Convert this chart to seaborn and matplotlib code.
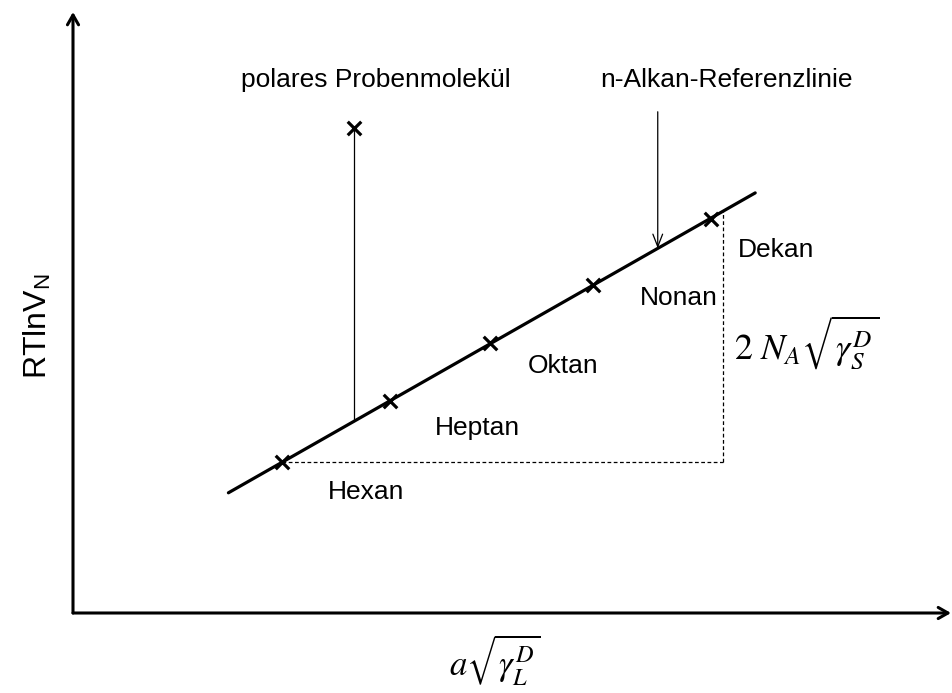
import numpy as np
import pandas as pd
import matplotlib.pyplot as plt
import seaborn as sns

# Schematic units: origin at the corner of the axes, both axes 0..100
alkanes = ["Hexan", "Heptan", "Oktan", "Nonan", "Dekan"]
alkane_x = [23.8, 36.1, 47.5, 59.2, 72.7]
alkane_y = [25.1, 35.3, 44.9, 54.6, 65.6]

polar_x = [32.0]
polar_y = [80.7]

# n-alkane reference line (end points)
ref_x = [17.7, 77.7]
ref_y = [20.0, 69.9]

df = pd.DataFrame({"x": alkane_x + polar_x, "y": alkane_y + polar_y,
                   "name": alkanes + ["polar"]})

sns.set_style("white")
plt.rcParams["font.family"] = ["Liberation Sans", "DejaVu Sans"]
plt.rcParams["mathtext.fontset"] = "stix"
plt.rcParams["text.color"] = "black"

fig = plt.figure(figsize=(9.52, 6.93), dpi=100)
ax = fig.add_axes([73 / 952, 80 / 693, 878 / 952, 601 / 693])
ax.set_xlim(0, 100)
ax.set_ylim(0, 100)
ax.set_axis_off()

# ---------------------------
# axes with open arrow heads
# ---------------------------
axis_arrow = dict(arrowstyle="->,head_length=0.7,head_width=0.4", lw=2.2,
                  color="black", shrinkA=0, shrinkB=0)
ax.annotate("", xy=(0, 100), xytext=(0, 0), arrowprops=axis_arrow,
            annotation_clip=False)
ax.annotate("", xy=(100, 0), xytext=(0, 0), arrowprops=axis_arrow,
            annotation_clip=False)

# ---------------------------
# reference line + points
# ---------------------------
sns.lineplot(x=ref_x, y=ref_y, color="black", lw=2.3, ax=ax)
sns.scatterplot(data=df, x="x", y="y", marker="x", s=95, color="black",
                linewidth=2.3, ax=ax, zorder=3)

# polar molecule drop line
ref_at_polar = np.interp(polar_x[0], ref_x, ref_y)
ax.plot([polar_x[0], polar_x[0]], [polar_y[0], ref_at_polar],
        color="black", lw=0.9)

# dashed triangle Hexan -> Dekan
step_x = 74.0
ax.plot([alkane_x[0], step_x], [alkane_y[0], alkane_y[0]],
        color="black", lw=0.9, ls=(0, (3, 2)))
ax.plot([step_x, step_x], [alkane_y[0], np.interp(step_x, ref_x, ref_y)],
        color="black", lw=0.9, ls=(0, (3, 2)))

# arrow pointing at the reference line
arrow_x = 66.6
ax.annotate("", xy=(arrow_x, np.interp(arrow_x, ref_x, ref_y)),
            xytext=(arrow_x, 83.4),
            arrowprops=dict(arrowstyle="->,head_length=0.9,head_width=0.35",
                            lw=0.9, color="black", shrinkA=0, shrinkB=0))

# ---------------------------
# texts
# ---------------------------
fs = 19
ax.text(34.5, 87.5, "polares Probenmolekül", fontsize=fs, ha="center", va="baseline")
ax.text(74.4, 87.5, "n-Alkan-Referenzlinie", fontsize=fs, ha="center", va="baseline")

label_pos = {"Hexan": (33.4, 19.0), "Heptan": (46.1, 29.6), "Oktan": (55.8, 39.9),
             "Nonan": (69.0, 51.2), "Dekan": (80.1, 59.2)}
for name in alkanes:
    lx, ly = label_pos[name]
    ax.text(lx, ly, name, fontsize=fs, ha="center", va="baseline")

ax.text(83.6, 45.1, r"$2\ N_{A}\sqrt{\gamma_{S}^{D}}$", fontsize=26,
        ha="center", va="center")

fig.text(495 / 952, 1 - 660 / 693, r"$a\sqrt{\gamma_{L}^{D}}$", fontsize=25,
         ha="center", va="center")
fig.text(38 / 952, 1 - 326 / 693, r"RTlnV$_\mathregular{N}$", fontsize=23,
         rotation=90, ha="center", va="center")

plt.savefig("out.png", dpi=100)
